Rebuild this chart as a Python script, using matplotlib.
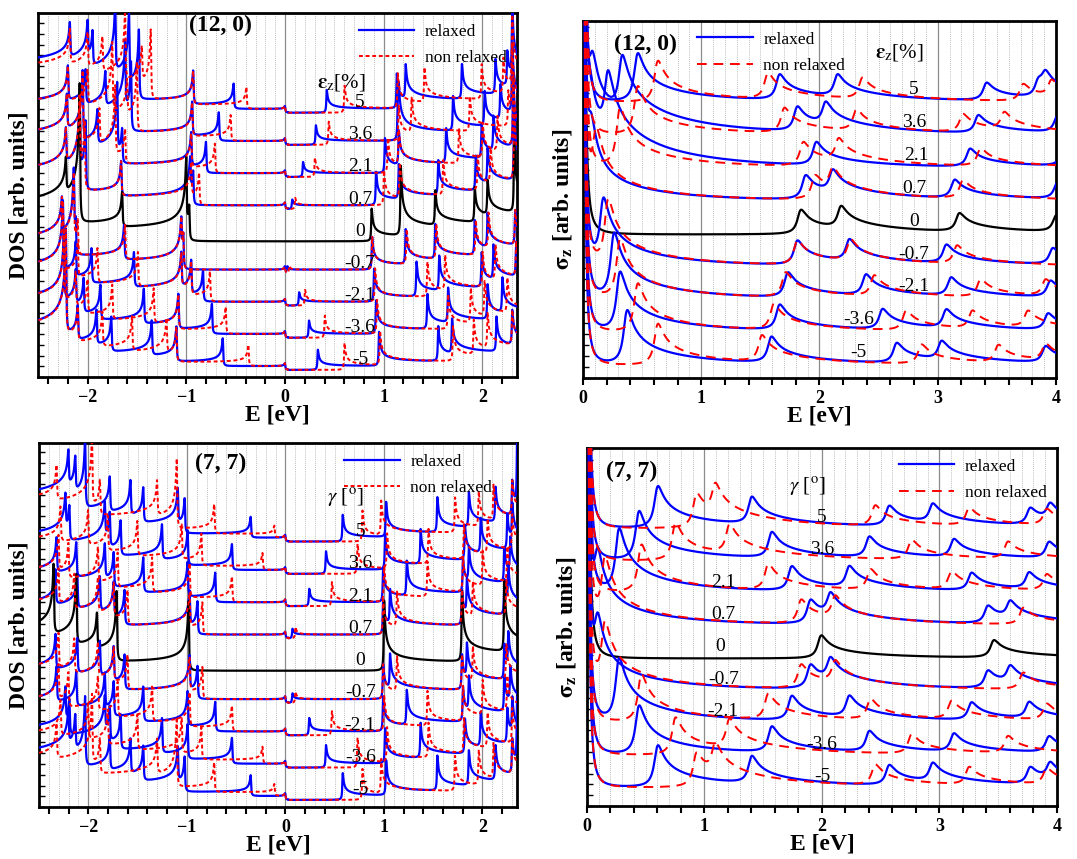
import numpy as np
import matplotlib
matplotlib.use("Agg")
import matplotlib.pyplot as plt
from matplotlib.ticker import MultipleLocator

plt.rcParams['font.family'] = ['Liberation Serif', 'DejaVu Serif']
plt.rcParams['mathtext.fontset'] = 'stix'

# ─── Data (singularity / peak energies in eV) ────────────────────────────────
# a value listed twice is a degenerate (stronger) singularity
STRAIN_LABELS = ['5', '3.6', '2.1', '0.7', '0', '-0.7', '-2.1', '-3.6', '-5']

# (12, 0) DOS, relaxed : valence / conduction band edges
ZZ_DOS_REL_V = [
    [-0.0, -0.52, -0.93, -1.48, -1.48, -1.58, -1.58, -1.72, -1.72, -1.95, -2.0, -2.18],
    [-0.0, -0.67, -0.94, -1.56, -1.56, -1.62, -1.62, -1.82, -2.02, -2.2],
    [-0.0, -0.8, -0.95, -1.65, -1.7, -1.7, -1.9, -2.05, -2.05, -2.21],
    [-0.0, -0.93, -0.96, -1.66, -2.02, -2.02, -2.08, -2.08, -2.22],
    [-0.97, -1.0, -1.0, -1.65, -2.08, -2.08, -2.08, -2.08, -2.22],
    [-0.0, -1.03, -1.05, -1.63, -2.12, -2.14, -2.14, -2.26],
    [-0.0, -0.83, -0.95, -1.05, -1.53, -1.96, -2.12, -2.25, -2.25],
    [-0.0, -0.74, -1.08, -1.43, -1.87, -2.04, -2.12, -2.24, -2.24],
    [-0.0, -0.63, -1.1, -1.35, -1.76, -1.91, -2.1, -2.22, -2.22, -2.22],
]
ZZ_DOS_REL_C = [
    [0.42, 1.13, 1.22, 1.79, 2.13, 2.25, 2.3, 2.3],
    [0.31, 1.14, 1.15, 1.70, 2.02, 2.18, 2.3, 2.3],
    [0.18, 1.01, 1.15, 1.63, 1.99, 2.11, 2.31, 2.31],
    [0.07, 0.92, 1.15, 1.55, 1.93, 2.05, 2.32, 2.32],
    [0.875, 1.17, 1.17, 1.52, 1.92, 2.05, 2.32, 2.32],
    [0.02, 0.88, 1.22, 1.52, 1.92, 2.05, 2.33],
    [0.14, 0.9, 1.33, 1.56, 1.99, 2.11, 2.34],
    [0.24, 0.92, 1.44, 1.65, 2.05, 2.2],
    [0.33, 0.95, 1.55, 1.69, 2.14, 2.3],
]
# (12, 0) DOS, non relaxed
ZZ_DOS_NR_V = [
    [-0.0, -0.39, -0.93, -1.36, -1.36, -1.45, -1.62, -1.62, -1.85, -2.0, -2.18],
    [-0.0, -0.55, -0.94, -1.5, -1.5, -1.6, -1.75, -1.75, -2.0, -2.2],
    [-0.0, -0.71, -0.95, -1.62, -1.72, -1.72, -1.88, -2.05, -2.05, -2.21],
    [-0.0, -0.87, -0.95, -1.66, -2.03, -2.03, -2.08, -2.08, -2.22],
    [],
    [-0.0, -1.03, -1.05, -1.62, -2.1, -2.14, -2.14, -2.26],
    [-0.0, -0.76, -0.95, -1.05, -1.49, -1.9, -2.1, -2.25, -2.25],
    [-0.0, -0.6, -1.08, -1.33, -1.75, -2.0, -2.12, -2.24, -2.24],
    [-0.0, -0.37, -1.1, -1.2, -1.55, -1.85, -2.1, -2.22, -2.22, -2.22],
]
ZZ_DOS_NR_C = [
    [0.6, 1.14, 1.41, 1.99, 2.21, 2.3, 2.3],
    [0.44, 1.15, 1.28, 1.87, 2.26, 2.3, 2.3],
    [0.3, 1.04, 1.15, 1.76, 2.0, 2.15, 2.31, 2.31],
    [0.1, 1.0, 1.16, 1.6, 1.95, 2.08, 2.32, 2.32],
    [],
    [0.04, 0.88, 1.23, 1.53, 1.93, 2.06, 2.33],
    [0.2, 0.91, 1.44, 1.62, 2.0, 2.13, 2.34],
    [0.4, 0.93, 1.65, 1.88, 2.02, 2.25],
    [0.6, 0.96, 1.7, 1.91, 2.05, 2.3],
]

# (7, 7) DOS, relaxed
AC_DOS_REL_V = [
    [-0.0, -0.35, -1.02, -1.09, -1.44, -1.57, -1.78, -2.03, -2.03, -2.13, -2.2],
    [-0.0, -0.54, -0.99, -1.25, -1.67, -1.78, -1.83, -2.19, -2.23],
    [-0.0, -0.71, -0.99, -1.44, -1.74, -1.83, -2.12, -2.32],
    [-0.0, -0.89, -0.97, -1.63, -1.74, -1.88, -2.11, -2.33],
    [-0.98, -0.98, -1.71, -1.71, -1.91, -2.12, -2.12, -2.35, -2.35],
    [-0.0, -0.89, -0.97, -1.63, -1.74, -1.88, -2.11, -2.33],
    [-0.0, -0.71, -0.99, -1.44, -1.74, -1.83, -2.12, -2.32],
    [-0.0, -0.54, -0.99, -1.25, -1.67, -1.78, -1.83, -2.19, -2.23],
    [-0.0, -0.35, -1.02, -1.09, -1.44, -1.57, -1.78, -2.03, -2.03, -2.13, -2.2],
]
AC_DOS_REL_C = [
    [0.58, 1.02, 1.54, 1.86, 2.13, 2.3, 2.35, 2.35],
    [0.41, 1.01, 1.37, 1.82, 1.98, 2.25, 2.3],
    [0.24, 0.99, 1.23, 1.8, 1.86, 2.22, 2.28],
    [0.07, 0.99, 1.06, 1.79, 1.84, 2.22, 2.26],
    [1.0, 1.0, 1.79, 1.79, 2.22, 2.22],
    [0.07, 0.99, 1.06, 1.79, 1.84, 2.22, 2.26],
    [0.24, 0.99, 1.23, 1.8, 1.86, 2.22, 2.28],
    [0.41, 1.01, 1.37, 1.82, 1.98, 2.25, 2.3],
    [0.58, 1.02, 1.54, 1.86, 2.13, 2.3, 2.35, 2.35],
]
# (7, 7) DOS, non relaxed
AC_DOS_NR_V = [
    [-0.0, -0.11, -0.72, -1.1, -1.1, -1.3, -1.88, -1.96, -1.96, -2.32],
    [-0.0, -0.23, -0.85, -1.05, -1.5, -1.8, -2.0, -2.28],
    [-0.0, -0.54, -0.97, -1.35, -1.7, -1.9, -2.2, -2.3],
    [-0.0, -0.84, -0.97, -1.6, -1.74, -1.9, -2.14, -2.3],
    [],
    [-0.0, -0.84, -0.97, -1.6, -1.74, -1.9, -2.14, -2.3],
    [-0.0, -0.54, -0.97, -1.35, -1.7, -1.9, -2.2, -2.3],
    [-0.0, -0.23, -0.85, -1.05, -1.5, -1.8, -2.0, -2.28],
    [-0.0, -0.11, -0.72, -1.1, -1.1, -1.3, -1.88, -1.96, -1.96, -2.32],
]
AC_DOS_NR_C = [
    [0.78, 0.97, 1.72, 1.96, 2.11, 2.3],
    [0.73, 1.03, 1.45, 1.81, 2.05, 2.3],
    [0.47, 1.0, 1.44, 1.8, 2.0, 2.25],
    [0.1, 0.99, 1.13, 1.79, 1.9, 2.24],
    [],
    [0.1, 0.99, 1.13, 1.79, 1.9, 2.24],
    [0.47, 1.0, 1.44, 1.8, 2.0, 2.25],
    [0.73, 1.03, 1.45, 1.81, 2.05, 2.3],
    [0.78, 0.97, 1.72, 1.96, 2.11, 2.3],
]

# (12, 0) optical conductivity peaks
ZZ_OPT_REL = [
    [0.45, 1.65, 2.14, 3.4, 3.84, 3.9],
    [0.07, 0.32, 1.80, 2.04, 3.33, 4.0],
    [0.05, 0.2, 1.96, 3.26, 4.05],
    [0.06, 1.87, 2.1, 3.13, 4.0],
    [1.83, 2.17, 3.17, 3.99],
    [0.16, 1.8, 2.24, 3.06, 3.96],
    [0.25, 1.72, 2.38, 3.1, 3.94],
    [0.3, 1.65, 2.52, 3.06, 3.92],
    [0.36, 1.58, 2.64, 3.02, 3.9],
]
ZZ_OPT_NR = [
    [0.62, 1.55, 2.35, 3.71, 3.95],
    [0.45, 1.69, 2.3, 3.2, 3.55],
    [0.3, 1.85, 2.15, 3.35],
    [0.1, 1.95, 2.1, 3.2],
    [],
    [0.2, 1.8, 2.25, 3.15],
    [0.3, 1.7, 2.45, 3.35, 3.9],
    [0.45, 1.6, 2.72, 3.28, 3.75],
    [0.62, 1.5, 2.85, 3.5, 3.9],
]

# (7, 7) optical conductivity peaks
AC_OPT_REL = [
    [0.59, 1.39, 2.56, 2.93, 3.76, 3.93],
    [0.43, 1.56, 2.39, 3.11, 3.92],
    [0.26, 1.73, 2.22, 3.26, 3.75],
    [0.08, 1.89, 2.06, 3.4, 3.59],
    [1.98, 3.45],
    [0.08, 1.89, 2.06, 3.4, 3.59],
    [0.26, 1.73, 2.22, 3.26, 3.75],
    [0.43, 1.56, 2.39, 3.11, 3.92],
    [0.59, 1.39, 2.56, 2.93, 3.76, 3.93],
]
AC_OPT_NR = [
    [0.92, 1.08, 2.44, 3.24, 3.9],
    [0.74, 1.2, 2.75, 3.57],
    [0.45, 1.53, 2.4, 3.09, 3.9],
    [0.14, 1.81, 2.1, 3.7],
    [],
    [0.14, 1.81, 2.1, 3.7],
    [0.45, 1.53, 2.4, 3.09, 3.9],
    [0.74, 1.2, 2.75, 3.57],
    [0.92, 1.08, 2.44, 3.24, 3.9],
]

# ─── Line shapes ─────────────────────────────────────────────────────────────
DOS_AMP, DOS_ETA = 0.12, 0.004
OPT_AMP, OPT_ETA, OPT_DECAY = 0.22, 0.03, 1.0
DRUDE_AMP, DRUDE_W = 25.0, 0.012


def band(x, d):
    """1D subband edge (hyperbolic dispersion), broadened."""
    z = x + 1j * DOS_ETA
    val = ((z + d) / (np.sqrt(z) * np.sqrt(z + 2 * d))).real
    return np.where(x > -d, val, 0.0)


def dos_curve(E, v_edges, c_edges):
    total = np.zeros_like(E)
    for ev in v_edges:
        total += band(ev - E, min(max(abs(ev), 0.03), 1.0))
    for ec in c_edges:
        total += band(E - ec, min(max(abs(ec), 0.03), 1.0))
    return DOS_AMP * total


def opt_curve(E, peaks):
    total = DRUDE_AMP / (1 + (E / DRUDE_W) ** 2)
    for ep in peaks:
        x = E - ep
        shape = (1 / np.sqrt(x + 1j * OPT_ETA)).real
        shape *= np.exp(-np.clip(x, 0, None) / OPT_DECAY)
        total += OPT_AMP / np.sqrt(max(ep, 0.25)) * shape
    return total


# ─── Panel drawing ───────────────────────────────────────────────────────────
def style_axes(ax, xlim, ylim, major, ylabel):
    ax.set_xlim(*xlim)
    ax.set_ylim(*ylim)
    ax.xaxis.set_major_locator(MultipleLocator(major))
    ax.xaxis.set_minor_locator(MultipleLocator(0.2))
    ax.set_yticks(np.arange(ylim[0], ylim[1], 1 / 3.0))
    ax.set_yticklabels([])
    ax.tick_params(axis='x', which='both', direction='out', length=5,
                   width=1.5, top=False, labelsize=13)
    ax.tick_params(axis='y', which='both', direction='in', length=4,
                   width=1.0, right=False)
    for lab in ax.get_xticklabels():
        lab.set_fontweight('bold')
    for g in np.arange(np.ceil(xlim[0] * 10) / 10, xlim[1], 0.1):
        if abs(g - round(g)) < 1e-6:
            ax.axvline(g, color='0.55', lw=0.9, zorder=0)
        else:
            ax.axvline(g, color='0.65', lw=0.6, ls=(0, (1, 1.5)), zorder=0)
    for sp in ax.spines.values():
        sp.set_linewidth(2.0)
    ax.set_xlabel('E [eV]', fontsize=17, fontweight='bold', labelpad=-1)
    ax.set_ylabel(ylabel, fontsize=17, fontweight='bold', labelpad=3)


def draw_panel(ax, E, rel, nr, curve_fn, nr_dash, lab_x, lab_dy):
    n = len(STRAIN_LABELS)
    for i in range(n):
        off = n - 1 - i
        if STRAIN_LABELS[i] == '0':
            ax.plot(E, off + curve_fn(E, *rel[i]), color='black', lw=1.6,
                    zorder=3)
        else:
            ax.plot(E, off + curve_fn(E, *rel[i]), color='#0000ff', lw=1.6,
                    zorder=3, label='relaxed' if i == 0 else None)
            ax.plot(E, off + curve_fn(E, *nr[i]), color='#ff0000', lw=1.4,
                    dashes=nr_dash, zorder=4,
                    label='non relaxed' if i == 0 else None)
        ax.text(lab_x[i], off + lab_dy, STRAIN_LABELS[i], fontsize=14,
                ha='center', va='bottom', zorder=5)


fig = plt.figure(figsize=(10.77, 8.59), dpi=100)
ax_a = fig.add_axes([0.0357, 0.5611, 0.4443, 0.4237])
ax_b = fig.add_axes([0.5413, 0.5600, 0.4392, 0.4156])
ax_c = fig.add_axes([0.0362, 0.0605, 0.4438, 0.4237])
ax_d = fig.add_axes([0.5450, 0.0617, 0.4364, 0.4168])

E_dos = np.linspace(-2.5, 2.5, 8000)
E_opt = np.linspace(0.001, 4.0, 5000)

zz_dos_rel = list(zip(ZZ_DOS_REL_V, ZZ_DOS_REL_C))
zz_dos_nr = list(zip(ZZ_DOS_NR_V, ZZ_DOS_NR_C))
ac_dos_rel = list(zip(AC_DOS_REL_V, AC_DOS_REL_C))
ac_dos_nr = list(zip(AC_DOS_NR_V, AC_DOS_NR_C))

# (a) (12, 0) DOS
draw_panel(ax_a, E_dos, zz_dos_rel, zz_dos_nr, dos_curve, (2, 1.4),
           [0.76] * 9, 0.05)
style_axes(ax_a, (-2.5, 2.35), (-0.22, 11.1), 1, 'DOS [arb. units]')

# (b) (12, 0) sigma_z
draw_panel(ax_b, E_opt, [(p,) for p in ZZ_OPT_REL], [(p,) for p in ZZ_OPT_NR],
           opt_curve, (5, 3.5),
           [2.8, 2.8, 2.82, 2.8, 2.8, 2.8, 2.8, 2.33, 2.33], 0.15)
style_axes(ax_b, (0, 4), (-0.36, 10.5), 1, r'$\mathbf{\sigma_z}$ [arb. units]')

# (c) (7, 7) DOS
draw_panel(ax_c, E_dos, ac_dos_rel, ac_dos_nr, dos_curve, (2, 1.4),
           [0.76] * 9, 0.05)
style_axes(ax_c, (-2.5, 2.35), (-0.22, 11.05), 1, 'DOS [arb. units]')

# (d) (7, 7) sigma_z
draw_panel(ax_d, E_opt, [(p,) for p in AC_OPT_REL], [(p,) for p in AC_OPT_NR],
           opt_curve, (5, 3.5),
           [2.0, 2.0, 1.16, 1.16, 1.13, 1.16, 1.16, 2.0, 2.0], 0.1)
style_axes(ax_d, (0, 4), (-0.55, 10.5), 1, r'$\mathbf{\sigma_z}$ [arb. units]')

# titles, strain symbols, legends
ax_a.text(0.38, 0.965, '(12, 0)', transform=ax_a.transAxes, fontsize=17,
          fontweight='bold', ha='center', va='center')
ax_b.text(0.133, 0.935, '(12, 0)', transform=ax_b.transAxes, fontsize=17,
          fontweight='bold', ha='center', va='center')
ax_c.text(0.38, 0.945, '(7, 7)', transform=ax_c.transAxes, fontsize=17,
          fontweight='bold', ha='center', va='center')
ax_d.text(0.096, 0.935, '(7, 7)', transform=ax_d.transAxes, fontsize=17,
          fontweight='bold', ha='center', va='center')

ax_a.text(0.632, 0.81, r'$\mathbf{\varepsilon}_\mathrm{z}$[%]',
          transform=ax_a.transAxes, fontsize=15, ha='center', va='center')
ax_b.text(0.668, 0.913, r'$\mathbf{\varepsilon}_\mathrm{z}$[%]',
          transform=ax_b.transAxes, fontsize=15, ha='center', va='center')
ax_c.text(0.64, 0.85, r'$\gamma$ [$^\mathrm{o}$]',
          transform=ax_c.transAxes, fontsize=15, ha='center', va='center')
ax_d.text(0.468, 0.89, r'$\gamma$ [$^\mathrm{o}$]',
          transform=ax_d.transAxes, fontsize=15, ha='center', va='center')

leg_kw = dict(frameon=False, fontsize=12.5, handlelength=3.2,
              handletextpad=0.6, labelspacing=0.6, borderaxespad=0.2)
ax_a.legend(loc='upper right', bbox_to_anchor=(1.0, 1.0), **leg_kw)
ax_b.legend(loc='upper left', bbox_to_anchor=(0.22, 1.0), **leg_kw)
ax_c.legend(loc='upper right', bbox_to_anchor=(0.97, 1.0), **leg_kw)
ax_d.legend(loc='upper right', bbox_to_anchor=(1.0, 1.0), **leg_kw)

fig.savefig('out.png', dpi=100)
